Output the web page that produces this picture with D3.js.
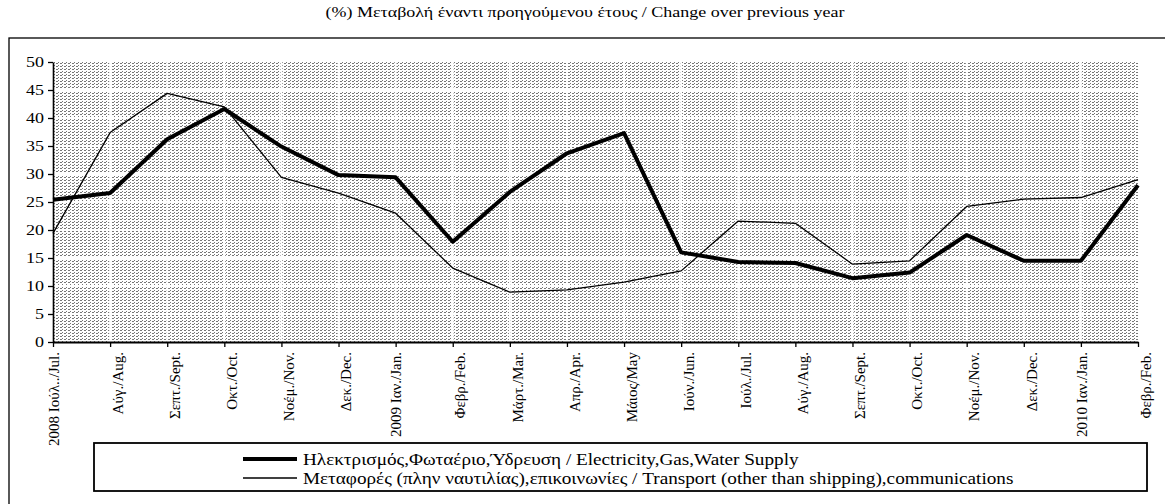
<!DOCTYPE html>
<html><head><meta charset="utf-8">
<script src="https://cdn.jsdelivr.net/npm/d3@7"></script>
<style>
html,body{margin:0;padding:0;background:#fff;}
text{font-family:"Liberation Serif","Times New Roman","DejaVu Serif",serif;}
</style></head>
<body><svg id="c" width="1165" height="504"></svg>
<script>
const categories = ["2008 Ιούλ../Jul.","Αύγ./Aug.","Σεπτ./Sept.","Οκτ./Oct.","Νοέμ./Nov.","Δεκ./Dec.","2009 Ιαν./Jan.","Φεβρ./Feb.","Μάρτ./Mar.","Απρ./Apr.","Μάιος/May","Ιούν./Jun.","Ιούλ./Jul.","Αύγ./Aug.","Σεπτ./Sept.","Οκτ./Oct.","Νοέμ./Nov.","Δεκ./Dec.","2010 Ιαν./Jan.","Φεβρ./Feb."];
const electricity = [25.4,26.6,36.2,41.6,34.9,29.8,29.4,17.9,26.8,33.7,37.3,16.0,14.3,14.1,11.4,12.4,19.1,14.5,14.5,28.0];
const transport = [19.4,37.4,44.4,42.0,29.4,26.6,23.0,13.2,8.9,9.3,10.7,12.7,21.6,21.2,13.9,14.5,24.2,25.5,25.8,29.0];
const yTicks = [0,5,10,15,20,25,30,35,40,45,50];
const title = "(%) Μεταβολή έναντι προηγούμενου έτους / Change over previous year";
const seriesNames = ["Ηλεκτρισμός,Φωταέριο,Ύδρευση / Electricity,Gas,Water Supply","Μεταφορές (πλην ναυτιλίας),επικοινωνίες / Transport (other than shipping),communications"];

const FONT = '"Liberation Serif","Times New Roman","DejaVu Serif",serif';
const SX = 1.2; // horizontal stretch of the reference picture
const svg = d3.select("#c");
const L=53, R=1138, T=62, B=342;

const defs = svg.append("defs");
const pat = defs.append("pattern").attr("id","dots").attr("patternUnits","userSpaceOnUse")
  .attr("width",4).attr("height",3);
pat.append("rect").attr("width",4).attr("height",3).attr("fill","#fff");
pat.append("rect").attr("x",0).attr("y",0).attr("width",2).attr("height",1).attr("fill","#777");
pat.append("rect").attr("x",2).attr("y",2).attr("width",1).attr("height",1).attr("fill","#777");

svg.append("text").attr("transform",`translate(585,17) scale(${SX},1)`).attr("text-anchor","middle")
  .attr("font-family",FONT).attr("font-size",15).text(title);

svg.append("rect").attr("x",9).attr("y",38).attr("width",1170).attr("height",500)
  .attr("fill","none").attr("stroke","#000").attr("stroke-width",1.3);

const x = d3.scalePoint().domain(d3.range(categories.length)).range([L,R]);
const y = d3.scaleLinear().domain([0,50]).range([B,T]);

svg.append("rect").attr("x",L).attr("y",T).attr("width",R-L).attr("height",B-T).attr("fill","url(#dots)");
svg.append("g").selectAll("line").data(yTicks.slice(1,-1)).join("line")
  .attr("x1",L).attr("x2",R).attr("y1",d=>y(d)).attr("y2",d=>y(d))
  .attr("stroke","#fff").attr("stroke-width",1.8);
svg.append("g").selectAll("line").data(d3.range(1,categories.length-1)).join("line")
  .attr("x1",d=>x(d)).attr("x2",d=>x(d)).attr("y1",T).attr("y2",B)
  .attr("stroke","#fff").attr("stroke-width",1.8);

const yAxis = svg.append("g").attr("transform",`translate(${L},0)`)
  .call(d3.axisLeft(y).tickValues(yTicks).tickSize(5).tickPadding(3).tickSizeOuter(0));
yAxis.attr("font-family",FONT).attr("font-size",15);
yAxis.select(".domain").attr("stroke-width",1.6);
yAxis.selectAll("line").attr("stroke-width",1.3);
yAxis.selectAll("text").attr("x",-9/SX).attr("transform",`scale(${SX},1)`);

const xAxis = svg.append("g").attr("transform",`translate(0,${B})`)
  .call(d3.axisBottom(x).tickSize(5).tickSizeOuter(0).tickFormat(i=>categories[i]));
xAxis.attr("font-family",FONT).attr("font-size",15);
xAxis.select(".domain").attr("stroke-width",1.8);
xAxis.selectAll("line").attr("stroke-width",1.3);
xAxis.selectAll("text")
  .attr("transform","rotate(-90)").attr("text-anchor","end")
  .attr("x",-10).attr("y",(d)=>/^\d{4}/.test(categories[d])?0:7).attr("dy","0.35em");

const line = d3.line().x((d,i)=>x(i)).y(d=>y(d));
svg.append("path").datum(transport).attr("d",line).attr("fill","none")
  .attr("stroke","#000").attr("stroke-width",1.3).attr("stroke-linejoin","round");
svg.append("path").datum(electricity).attr("d",line).attr("fill","none")
  .attr("stroke","#000").attr("stroke-width",4).attr("stroke-linejoin","round");

const lg = svg.append("g");
lg.append("rect").attr("x",94).attr("y",443).attr("width",1053).attr("height",48)
  .attr("fill","#fff").attr("stroke","#000").attr("stroke-width",1.8);
const widths=[4,1.3], ys=[459,478];
seriesNames.forEach((n,i)=>{
  lg.append("line").attr("x1",243).attr("x2",297).attr("y1",ys[i]).attr("y2",ys[i])
    .attr("stroke","#000").attr("stroke-width",widths[i]);
  lg.append("text").attr("transform",`translate(303,${ys[i]}) scale(${SX},1)`).attr("dy","0.35em")
    .attr("font-family",FONT).attr("font-size",16).text(n);
});
</script></body></html>
